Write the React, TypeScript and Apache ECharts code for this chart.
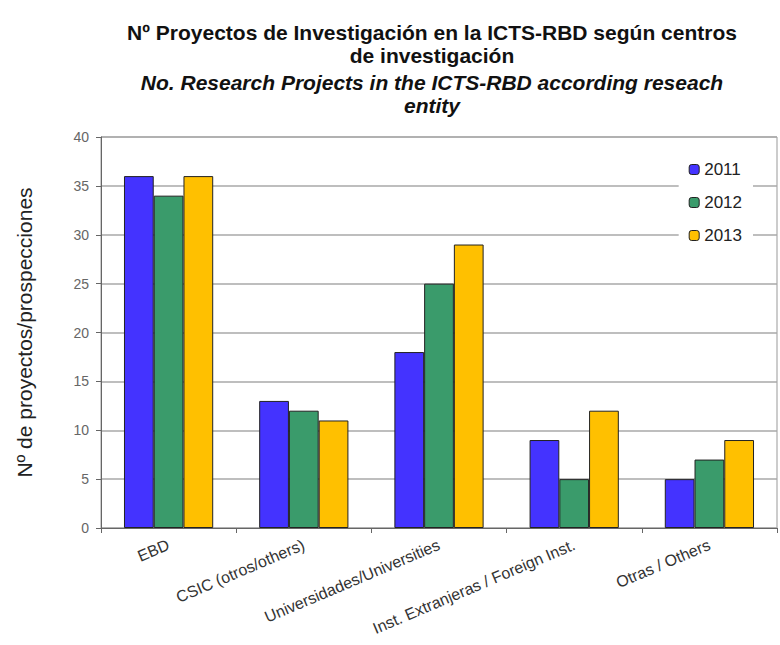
import React, { useEffect, useRef } from "react";
import * as echarts from "echarts";

const categories = [
  "EBD",
  "CSIC (otros/others)",
  "Universidades/Universities",
  "Inst. Extranjeras / Foreign Inst.",
  "Otras / Others",
];
const seriesNames = ["2011", "2012", "2013"];
const values2011 = [36, 13, 18, 9, 5];
const values2012 = [34, 12, 25, 5, 7];
const values2013 = [36, 11, 29, 12, 9];
const colors = ["#4433ff", "#3a9b6b", "#ffc000"];

export default function App() {
  const ref = useRef<HTMLDivElement>(null);
  useEffect(() => {
    document.body.style.margin = "0";
    const chart = echarts.init(ref.current!, null, { renderer: "svg" });
    const data = [values2011, values2012, values2013];
    chart.setOption({
      animation: false,
      backgroundColor: "#ffffff",
      title: {
        text: "Nº Proyectos de Investigación en la ICTS-RBD según centros\nde investigación",
        subtext: "No. Research Projects in the ICTS-RBD according reseach\nentity",
        left: 427,
        top: 16,
        textAlign: "center",
        itemGap: 4,
        textStyle: {
          fontFamily: "Liberation Sans",
          fontSize: 21,
          fontWeight: "bold",
          color: "#111",
          lineHeight: 23,
        },
        subtextStyle: {
          fontFamily: "Liberation Sans",
          fontSize: 21,
          fontWeight: "bold",
          fontStyle: "italic",
          color: "#111",
          lineHeight: 23,
        },
      },
      legend: {
        orient: "vertical",
        right: 27,
        top: 155,
        itemWidth: 10,
        itemHeight: 10,
        itemGap: 16,
        itemTextGap: 4,
        backgroundColor: "#ffffff",
        padding: [6, 11, 6, 10],
        textStyle: { fontFamily: "Liberation Sans", fontSize: 17, color: "#222" },
        data: seriesNames.map((n) => ({ name: n, itemStyle: { borderColor: "#222", borderWidth: 1 } })),
      },
      grid: {
        left: 101,
        right: 3,
        top: 137,
        bottom: 117,
        show: true,
        borderColor: "#999",
        borderWidth: 1,
      },
      xAxis: {
        type: "category",
        data: categories,
        axisLine: { lineStyle: { color: "#666" } },
        axisTick: { show: true, alignWithLabel: false, lineStyle: { color: "#666" } },
        axisLabel: {
          rotate: 23,
          interval: 0,
          fontFamily: "Liberation Sans",
          fontSize: 16,
          color: "#333",
          margin: 16,
        },
      },
      yAxis: {
        type: "value",
        min: 0,
        max: 40,
        interval: 5,
        name: "Nº de proyectos/prospecciones",
        nameLocation: "middle",
        nameGap: 66,
        nameTextStyle: { fontFamily: "Liberation Sans", fontSize: 21, color: "#222" },
        axisLine: { show: true, lineStyle: { color: "#666" } },
        axisTick: { show: true, lineStyle: { color: "#666" } },
        axisLabel: { fontFamily: "Liberation Sans", fontSize: 14, color: "#666", margin: 12 },
        splitLine: { lineStyle: { color: "#a8a8a8", width: 1.5 } },
      },
      series: seriesNames.map((n, i) => ({
        name: n,
        type: "bar",
        data: data[i],
        barGap: "0%",
        barCategoryGap: "34%",
        itemStyle: { color: colors[i], borderColor: "#222", borderWidth: 1 },
      })),
    });
    return () => chart.dispose();
  }, []);
  return <div ref={ref} style={{ width: 780, height: 645 }} />;
}
